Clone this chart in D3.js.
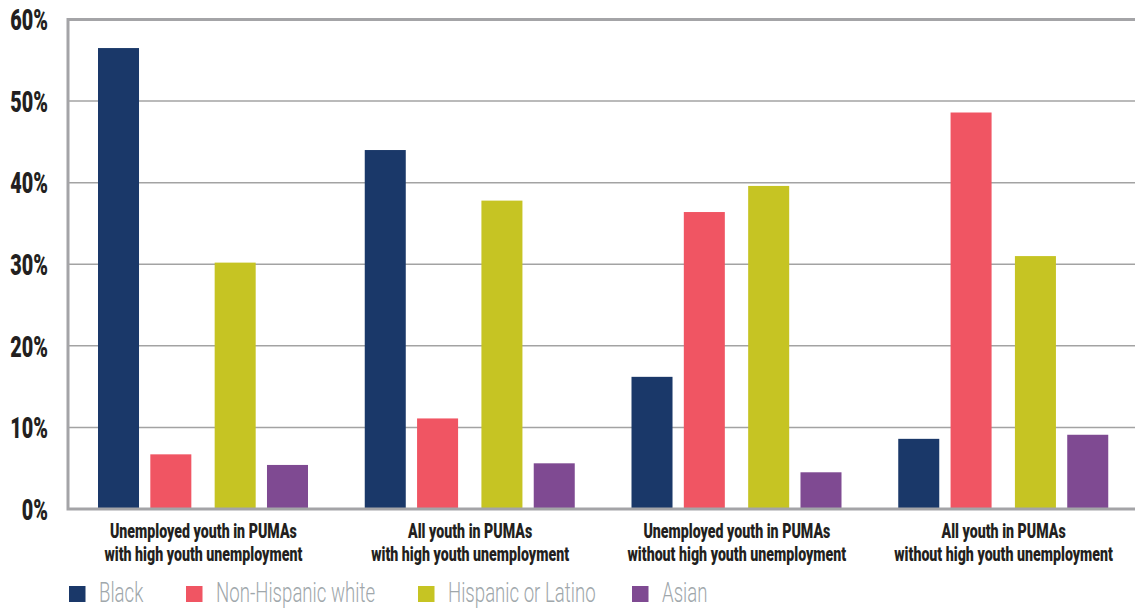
<!DOCTYPE html>
<html><head><meta charset="utf-8">
<script src="https://cdn.jsdelivr.net/npm/d3@7"></script>
<style>
body{margin:0;background:#fff;}
svg{display:block;}
</style></head>
<body><svg id="chart" width="1135" height="608"></svg>
<script>
const categories = [
  ["Unemployed youth in PUMAs","with high youth unemployment"],
  ["All youth in PUMAs","with high youth unemployment"],
  ["Unemployed youth in PUMAs","without high youth unemployment"],
  ["All youth in PUMAs","without high youth unemployment"]
];
const seriesNames = ["Black","Non-Hispanic white","Hispanic or Latino","Asian"];
const blackVals = [56.5, 44.0, 16.2, 8.6];
const whiteVals = [6.7, 11.1, 36.4, 48.6];
const hispanicVals = [30.2, 37.8, 39.6, 31.0];
const asianVals = [5.4, 5.6, 4.5, 9.1];
const yTicks = [0,10,20,30,40,50,60];
const colors = ["#1a3869","#f05563","#c6c423","#7f4a92"];

const seriesVals = [blackVals, whiteVals, hispanicVals, asianVals];
const svg = d3.select("#chart");
const m = {left:68, right:0, top:19.5, bottom:99};
const W = 1135, H = 608;
const x0 = d3.scaleBand().domain(d3.range(categories.length)).range([m.left, W]).padding(0);
// series are laid out as two pairs within each group
const xPair = d3.scaleBand().domain([0,1]).range([30, 240]).paddingInner(0.2).paddingOuter(0);
const xInPair = d3.scaleBand().domain([0,1]).range([0, xPair.bandwidth()]).paddingInner(0.216).paddingOuter(0);
const xs = s => xPair(Math.floor(s/2)) + xInPair(s%2);
const y = d3.scaleLinear().domain([0,60]).range([H - m.bottom, m.top]);

const FONT = "Roboto,'Open Sans',sans-serif";

// gridlines
svg.append("g").selectAll("line").data(yTicks.filter(t=>t>0 && t<60)).join("line")
  .attr("x1", m.left).attr("x2", W)
  .attr("y1", d=>y(d)).attr("y2", d=>y(d))
  .attr("stroke","#a3a3a3").attr("stroke-width",1.5);

// bars
const g = svg.append("g");
categories.forEach((c,i)=>{
  seriesVals.forEach((vals,s)=>{
    g.append("rect")
      .attr("x", x0(i) + xs(s))
      .attr("width", xInPair.bandwidth())
      .attr("y", y(vals[i]))
      .attr("height", y(0) - y(vals[i]))
      .attr("fill", colors[s]);
  });
});

// frame
svg.append("path")
  .attr("d", `M${W},${y(60)}H${m.left}V${y(0)}H${W}`)
  .attr("fill","none").attr("stroke","#a4a4a7").attr("stroke-width",3);

// y axis labels
const ya = svg.append("g");
yTicks.forEach(t=>{
  ya.append("text").attr("transform",`translate(${m.left-20},${y(t)}) scale(0.66,1)`)
    .attr("text-anchor","end").attr("dy","0.36em")
    .attr("font-family",FONT).attr("font-weight",900).attr("font-size",30).attr("fill","#231f20")
    .text(d3.format("d")(t)+"%");
});

// category labels
categories.forEach((c,i)=>{
  c.forEach((line,k)=>{
    svg.append("text").attr("text-anchor","middle")
      .attr("transform",`translate(${x0(i)+x0.bandwidth()/2+2},${538 + k*22.5}) scale(0.71,1)`)
      .attr("font-family",FONT).attr("font-weight",900).attr("font-size",20).attr("fill","#231f20")
      .text(line);
  });
});

// legend
const legX = d3.scaleOrdinal().domain(seriesNames).range([69, 186, 418, 632]);
const leg = svg.append("g");
seriesNames.forEach((n,s)=>{
  leg.append("rect").attr("x", legX(n)).attr("y", 586).attr("width",16.5).attr("height",16).attr("fill",colors[s]);
  leg.append("text").attr("transform",`translate(${legX(n)+30},602) scale(0.69,1)`).text(n)
    .attr("font-family",FONT).attr("font-weight",300)
    .attr("font-size",27).attr("fill","#a0a7ab");
});
</script></body></html>
